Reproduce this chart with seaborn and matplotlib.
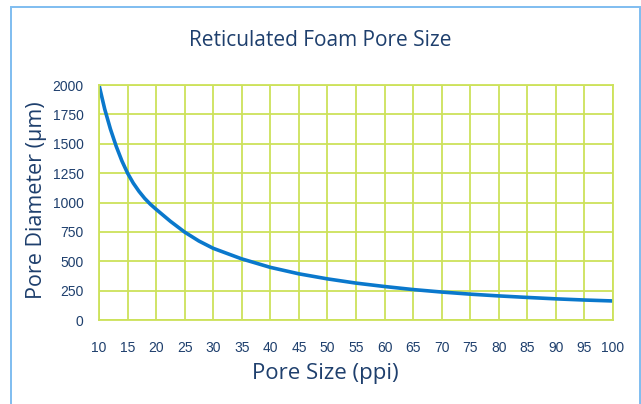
import matplotlib
matplotlib.use("Agg")
import matplotlib.pyplot as plt
import seaborn as sns
import pandas as pd
from matplotlib.patches import Rectangle
from matplotlib import font_manager

# ---- data ----
pore_size_ppi = [10, 11, 12, 13, 14, 15, 16, 17, 18, 19, 20, 22.5, 25, 27.5, 30, 35, 40,
                 45, 50, 55, 60, 65, 70, 75, 80, 85, 90, 95, 100]
pore_diameter_um = [2000, 1795, 1625, 1480, 1355, 1250, 1165, 1095, 1035, 985, 942,
                    840, 748, 672, 610, 520, 448, 393, 350, 314, 285, 259, 238, 220,
                    205, 192, 180, 170, 162]
x_ticks = list(range(10, 101, 5))
y_ticks = list(range(0, 2001, 250))
title = "Reticulated Foam Pore Size"
x_label = "Pore Size (ppi)"
y_label = "Pore Diameter (\u00b5m)"

df = pd.DataFrame({"ppi": pore_size_ppi, "diam": pore_diameter_um})

sns.set_style("white")
names = {f.name for f in font_manager.fontManager.ttflist}
tick_font = "Liberation Sans Narrow" if "Liberation Sans Narrow" in names else "Liberation Sans"
tick_size = 11 if tick_font == "Liberation Sans Narrow" else 10
plt.rcParams["font.family"] = ["Open Sans", "DejaVu Sans"]

NAVY = "#1e3f6d"
GRID = "#cde25a"
LINE = "#0a78cc"

W, H = 641, 404
fig = plt.figure(figsize=(W / 100, H / 100), dpi=100)
fig.patch.set_facecolor("white")
ax = fig.add_axes([99 / W, 1 - 320 / H, 514 / W, 235 / H])

sns.lineplot(data=df, x="ppi", y="diam", ax=ax, color=LINE, linewidth=2.6)

ax.set_xlim(10, 100)
ax.set_ylim(0, 2000)
ax.set_xticks(x_ticks)
ax.set_yticks(y_ticks)
ax.set_xticklabels([str(v) for v in x_ticks], fontfamily=tick_font, fontsize=tick_size, color=NAVY)
ax.set_yticklabels([str(v) for v in y_ticks], fontfamily=tick_font, fontsize=tick_size, color=NAVY)
ax.grid(True, color=GRID, linewidth=1.3)
ax.set_axisbelow(True)
for s in ax.spines.values():
    s.set_color(GRID)
    s.set_linewidth(1.3)
ax.tick_params(axis="x", length=4, width=1.2, color=GRID, pad=11, direction="out")
ax.tick_params(axis="y", length=0, pad=11)

ax.set_xlabel(x_label, fontsize=16, color=NAVY)
ax.xaxis.set_label_coords((325 - 99) / 514, (320 - 373) / 235)
ax.xaxis.label.set_va("center")
ax.set_ylabel(y_label, fontsize=15.5, color=NAVY)
ax.yaxis.set_label_coords((36 - 99) / 514, (320 - 200) / 235)
ax.yaxis.label.set_va("center")

fig.text(320 / W, 1 - 41 / H, title, ha="center", va="center", fontsize=15, color=NAVY)

# outer light-blue frame
fig.patches.append(Rectangle((10.5 / W, -0.05), (639.5 - 10.5) / W, 1 - 6.5 / H + 0.05,
                             transform=fig.transFigure, fill=False,
                             edgecolor="#7fbdf0", linewidth=1.4))

fig.savefig("out.png", dpi=100, facecolor="white")
